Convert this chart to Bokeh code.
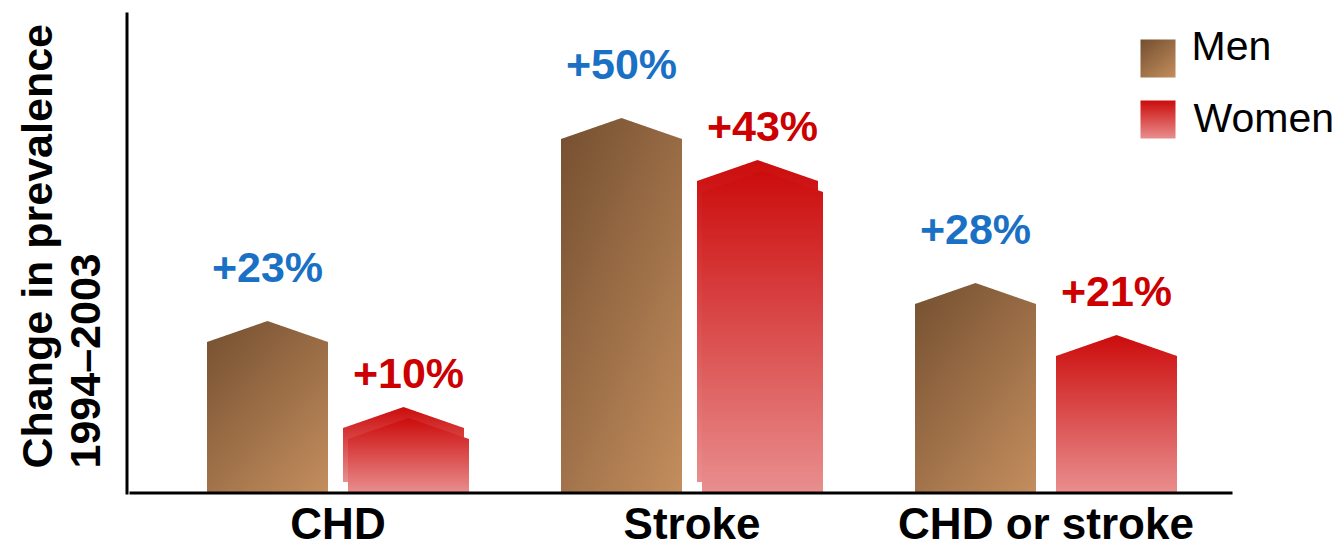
import numpy as np
from bokeh.plotting import figure
from bokeh.models import Range1d
from bokeh.core.properties import value
from bokeh.embed import file_html
from bokeh.resources import INLINE

# ---- data -------------------------------------------------------------
categories = ["CHD", "Stroke", "CHD or stroke"]
series = ["Men", "Women"]
men_change = [23, 50, 28]        # % change in prevalence, 1994-2003
women_change = [10, 43, 21]
y_title = ["Change in prevalence", "1994\u20132003"]

# ---- styling ------------------------------------------------------------
W, H = 1341, 548
PXX = 354.0          # pixels per category step
PXY = 7.5            # pixels per percentage point
CAT0_PX = 337.5      # screen x of the first category centre
BASE_PX = 492.5      # screen y of the zero line
BASE_FIX = 0.41      # baseline correction for text glyphs, in em

x_start = -CAT0_PX / PXX
x_end = x_start + W / PXX
y_end = BASE_PX / PXY
y_start = y_end - H / PXY


def sx(px):
    return x_start + px / PXX


def sy(py):
    return y_end - py / PXY


def lift(size_px):
    """Upward shift (data units) that puts the alphabetic baseline in place."""
    return BASE_FIX * size_px / PXY


BAR_W = 121 / PXX
DODGE = 70.5 / PXX
ROOF = 21.0                     # roof height in px
SHADOW_DX, SHADOW_DY = -5.0, 11.0
women_shadow = [True, True, False]

FONT = value("Liberation Sans")
BLUE = "#1a70c4"
RED = "#cc0000"
VAL_SIZE, CAT_SIZE, TITLE_SIZE, LEG_SIZE = 43, 44, 43, 41


def men_colors(u, v):
    c0 = np.array([0x74, 0x4f, 0x30], float)
    c1 = np.array([0xc4, 0x8e, 0x5e], float)
    t = np.clip(0.42 * u + 0.58 * v, 0, 1)[..., None]
    return c0 + (c1 - c0) * t


def women_colors(u, v):
    c0 = np.array([0xcc, 0x0c, 0x0c], float)
    c1 = np.array([0xe9, 0x8e, 0x8e], float)
    t = np.clip(v, 0, 1)[..., None]
    return c0 + (c1 - c0) * t


def house_image(width_px, height_px, roof_px, colorfn, ss=4):
    """RGBA image of a bar with a pointed roof, with smoothed edges."""
    w = int(round(width_px))
    h = int(round(height_px))
    us = (np.arange(w * ss) + 0.5) / (w * ss)
    hs = (np.arange(h * ss) + 0.5) / ss
    U, Hh = np.meshgrid(us, hs)
    top = (h - roof_px) + roof_px * (1 - np.abs(2 * U - 1))
    cov = (Hh <= top).astype(float).reshape(h, ss, w, ss).mean(axis=(1, 3))
    uc = (np.arange(w) + 0.5) / w
    vc = 1 - (np.arange(h) + 0.5) / h
    Uc, Vc = np.meshgrid(uc, vc)
    rgb = colorfn(Uc, Vc)
    img = np.zeros((h, w, 4), dtype=np.uint8)
    img[..., :3] = np.clip(np.round(rgb), 0, 255).astype(np.uint8)
    img[..., 3] = np.clip(np.round(cov * 255), 0, 255).astype(np.uint8)
    return img.view(np.uint32).reshape(h, w), w / PXX, h / PXY


p = figure(width=W, height=H, x_range=Range1d(x_start, x_end),
           y_range=Range1d(y_start, y_end), output_backend="svg",
           toolbar_location=None, x_axis_type=None, y_axis_type=None,
           min_border=0, outline_line_color=None)
p.background_fill_color = "white"
p.border_fill_color = "white"


def draw_bar(center, val, colorfn, dx_px=0.0, dy_px=0.0):
    img, dw, dh = house_image(BAR_W * PXX, val * PXY, ROOF, colorfn)
    p.image_rgba(image=[img], x=center - BAR_W / 2 + dx_px / PXX,
                 y=dy_px / PXY, dw=dw, dh=dh)


cat_x = np.arange(len(categories), dtype=float)

for i, v in enumerate(men_change):
    draw_bar(cat_x[i] - DODGE, v, men_colors)
for i, v in enumerate(women_change):
    if women_shadow[i]:
        draw_bar(cat_x[i] + DODGE, v, women_colors, SHADOW_DX, SHADOW_DY)
    draw_bar(cat_x[i] + DODGE, v, women_colors)

# value labels
p.text(x=list(cat_x - DODGE),
       y=[v + 36 / PXY + lift(VAL_SIZE) for v in men_change],
       text=[f"+{v}%" for v in men_change], text_color=BLUE,
       text_font=FONT, text_font_style="bold", text_font_size=f"{VAL_SIZE}px",
       text_align="center", text_baseline="alphabetic")
p.text(x=list(cat_x + DODGE),
       y=[v + 27 / PXY + lift(VAL_SIZE) for v in women_change],
       text=[f"+{v}%" for v in women_change], text_color=RED,
       text_font=FONT, text_font_style="bold", text_font_size=f"{VAL_SIZE}px",
       text_align="center", text_baseline="alphabetic")

# axis lines
p.segment(x0=[sx(126.5)], y0=[sy(494)], x1=[sx(126.5)], y1=[sy(12)],
          line_color="black", line_width=3)
p.segment(x0=[sx(129)], y0=[0], x1=[sx(1232)], y1=[0],
          line_color="black", line_width=3)

# category labels
p.text(x=list(cat_x), y=[sy(541) + lift(CAT_SIZE)] * len(categories),
       text=categories, text_color="black", text_font=FONT,
       text_font_style="bold", text_font_size=f"{CAT_SIZE}px",
       text_align="center", text_baseline="alphabetic")

# y title, rotated (baseline shift becomes a horizontal one)
shift_x = BASE_FIX * TITLE_SIZE / PXX
p.text(x=[sx(54) - shift_x, sx(102) - shift_x], y=[sy(468)] * 2,
       text=y_title, angle=np.pi / 2, text_color="black", text_font=FONT,
       text_font_style="bold", text_font_size=f"{TITLE_SIZE}px",
       text_align="left", text_baseline="alphabetic")

# legend
sw_men, dw, dh = house_image(35, 38, 0, men_colors)
p.image_rgba(image=[sw_men], x=sx(1140), y=sy(77), dw=dw, dh=dh)
sw_w, dw, dh = house_image(35, 38, 0, women_colors)
p.image_rgba(image=[sw_w], x=sx(1140), y=sy(138), dw=dw, dh=dh)
p.text(x=[sx(1191), sx(1193)], y=[sy(62) + lift(LEG_SIZE), sy(134) + lift(LEG_SIZE)],
       text=series, text_color="black", text_font=FONT,
       text_font_size=f"{LEG_SIZE}px", text_align="left",
       text_baseline="alphabetic")

open("out.html", "w").write(file_html(p, INLINE))
